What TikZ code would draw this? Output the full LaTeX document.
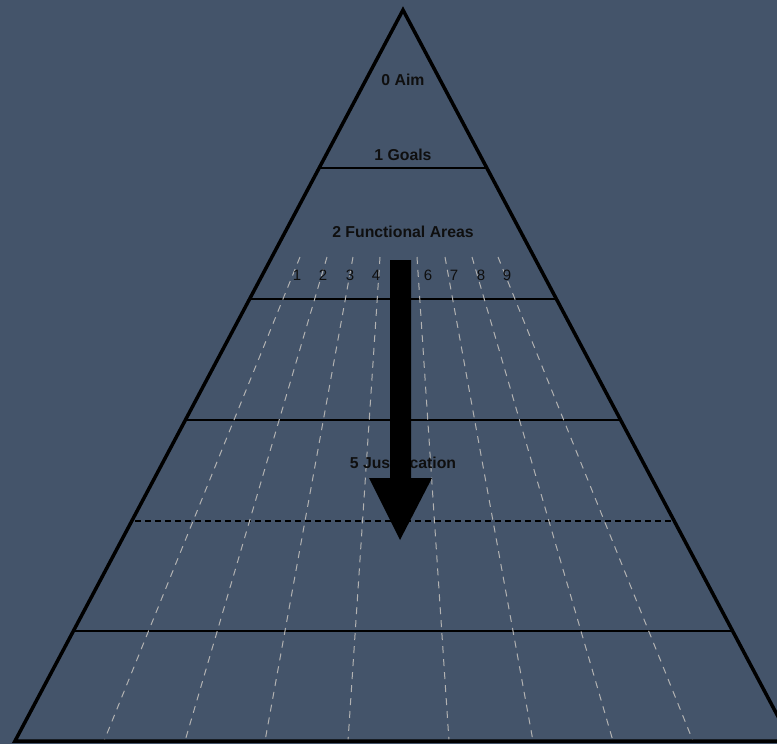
\documentclass[tikz,border=0pt]{standalone}
\usepackage{fontspec}
\setmainfont{Liberation Sans}
\usetikzlibrary{calc}
\definecolor{bgblue}{RGB}{68,84,106}
\definecolor{colgray}{RGB}{178,178,178}
\definecolor{txt}{RGB}{15,15,15}
\begin{document}
\begin{tikzpicture}[x=1pt,y=-1pt,
  outline/.style={line width=3.5pt,line join=miter},
  levelline/.style={line width=1.6pt},
  leveldash/.style={line width=1.6pt,dash pattern=on 6pt off 4pt},
  colline/.style={colgray,line width=1pt,dash pattern=on 7pt off 6pt},
  lvllabel/.style={text=txt,font=\bfseries\fontsize{15.8}{18}\selectfont,inner sep=0pt},
  numlabel/.style={text=txt,font=\fontsize{15}{18}\selectfont,inner sep=0pt}]
\fill[bgblue] (0,0) rectangle (777,744);
\useasboundingbox (0,0) rectangle (777,744);
\clip (0,0) rectangle (777,744);
\coordinate (apex) at (403,10);
\coordinate (bl) at (15,741);
\coordinate (br) at (791,741);
% level lines
\foreach \n/\t in {a/0.2161,b/0.3953,c/0.5609,e/0.8495}{
  \coordinate (L\n) at ($(apex)!\t!(bl)$);
  \coordinate (R\n) at ($(apex)!\t!(br)$);
  \draw[levelline] (L\n) -- (R\n);
}
\coordinate (Ld) at (135,521);
\coordinate (Rd) at (671,521);
\draw[leveldash] (Ld) -- (Rd);
% column lines
\foreach \i/\xt/\xb in {1/300/104,2/327/185,3/353/265,4/380/348,5/417/449,6/445/533,7/472/613,8/498/693}{
  \coordinate (ct\i) at (\xt,257);
  \coordinate (cb\i) at (\xb,741);
  \draw[colline] (ct\i) -- (cb\i);
}
% labels
\node[lvllabel] (aim) at (403,80) {0 Aim};
\node[lvllabel] (goals) at (403,155) {1 Goals};
\node[lvllabel] (areas) at (403,232) {2 Functional Areas};
\node[lvllabel] (just) at (403,463) {5 Justification};
\foreach \k/\x in {1/297,2/323,3/350,4/376,5/402,6/428,7/454,8/481,9/507}{
  \node[numlabel] (num\k) at (\x,275) {\k};
}
% triangle
\draw[outline] (bl) -- (apex) -- (br) -- cycle;
% arrow
\fill[black] (390,260) -- (411,260) -- (411,478) -- (432,478) -- (400,540) -- (369,478) -- (390,478) -- cycle;
\end{tikzpicture}
\end{document}
